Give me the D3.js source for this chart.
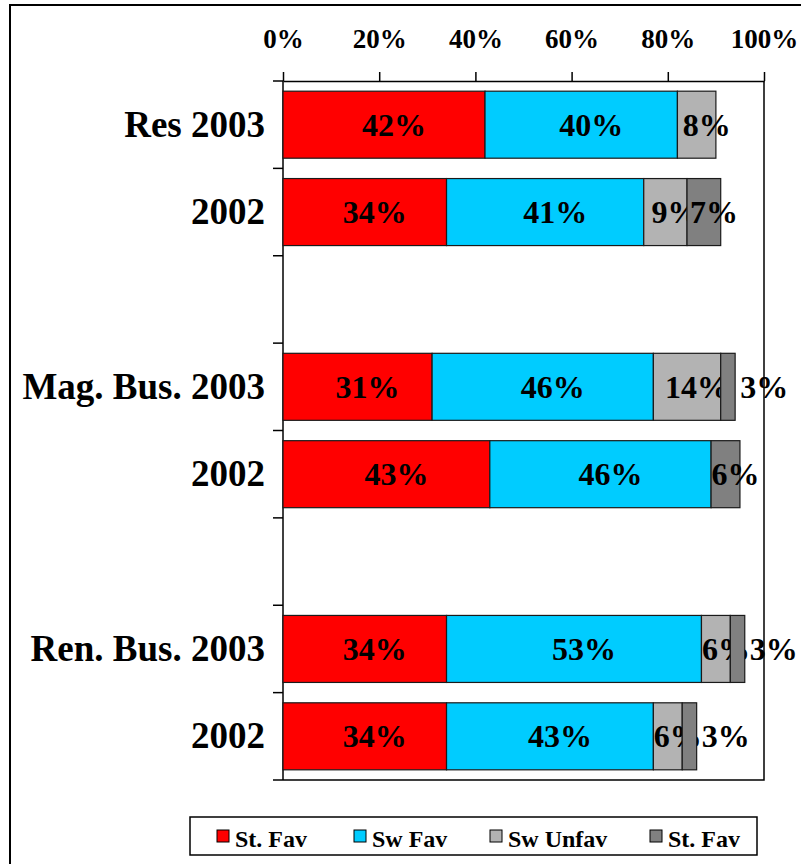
<!DOCTYPE html>
<html>

<head>
  <meta charset="utf-8">
  <script src="https://d3js.org/d3.v7.min.js"></script>

  <style>
    body {
      margin: 0;
      background: white;
    }

    text {
      font-family: "Liberation Serif", "Times New Roman", serif;
      font-weight: bold;
      fill: black;
    }
  </style>
</head>

<body>
  <script type="text/javascript">
    "use strict";

    /*
      chart data, one entry per row (blank rows are spacers between groups)
    */
    var categories = ["Res 2003", "2002", "", "Mag. Bus. 2003", "2002", "", "Ren. Bus. 2003", "2002"];
    var strongFav = [42, 34, null, 31, 43, null, 34, 34];
    var swFav = [40, 41, null, 46, 46, null, 53, 43];
    var swUnfav = [8, 9, null, 14, 0, null, 6, 6];
    var strongUnfav = [0, 7, null, 3, 6, null, 3, 3];
    var seriesNames = ["St. Fav", "Sw Fav", "Sw Unfav", "St. Fav"];
    var tickValues = [0, 20, 40, 60, 80, 100];

    var colors = ["#ff0000", "#00ccff", "#b3b3b3", "#808080"];
    var keys = ["s0", "s1", "s2", "s3"];

    var width = 801,
      height = 864;
    var plot = { left: 283, right: 764, top: 81, bottom: 780 };

    var svg = d3.select("body")
      .append("svg")
      .attr("width", width)
      .attr("height", height);

    // outer chart frame, right and bottom edges fall outside the picture
    svg.append("rect")
      .attr("x", 10)
      .attr("y", 5)
      .attr("width", 820)
      .attr("height", 880)
      .attr("fill", "white")
      .attr("stroke", "black")
      .attr("stroke-width", 2);

    var rows = categories.map(function(c, i) {
      return {
        idx: i,
        label: c,
        blank: strongFav[i] === null,
        s0: strongFav[i] || 0,
        s1: swFav[i] || 0,
        s2: swUnfav[i] || 0,
        s3: strongUnfav[i] || 0
      };
    });

    var x = d3.scaleLinear()
      .domain([0, 100])
      .range([plot.left, plot.right]);

    var y = d3.scaleBand()
      .domain(rows.map(function(d) { return d.idx; }))
      .range([plot.top, plot.bottom])
      .paddingInner(0.233)
      .paddingOuter(0.1165);

    var stacked = d3.stack().keys(keys)(rows.filter(function(d) { return !d.blank; }));

    /*
      plot area border (right + bottom) and category axis
    */
    svg.append("path")
      .attr("d", "M" + plot.left + "," + plot.bottom + "H" + plot.right + "V" + plot.top)
      .attr("fill", "none")
      .attr("stroke", "black")
      .attr("stroke-width", 1.5);

    var step = y.step();
    var edges = d3.range(categories.length + 1).map(function(i) {
      return plot.top + i * step;
    });
    svg.append("g")
      .selectAll("line")
      .data(edges)
      .enter()
      .append("line")
      .attr("x1", plot.left - 10)
      .attr("x2", plot.left)
      .attr("y1", function(d) { return d; })
      .attr("y2", function(d) { return d; })
      .attr("stroke", "black")
      .attr("stroke-width", 1.5);

    svg.append("line")
      .attr("x1", plot.left)
      .attr("x2", plot.left)
      .attr("y1", plot.top)
      .attr("y2", plot.bottom)
      .attr("stroke", "black")
      .attr("stroke-width", 1.5);

    svg.append("g")
      .selectAll("text")
      .data(rows.filter(function(d) { return !d.blank; }))
      .enter()
      .append("text")
      .attr("x", 265)
      .attr("y", function(d) { return y(d.idx) + y.bandwidth() / 2 + 12; })
      .attr("text-anchor", "end")
      .style("font-size", "37px")
      .text(function(d) { return d.label; });

    /*
      value axis on top
    */
    var xAxis = svg.append("g")
      .attr("transform", "translate(0," + plot.top + ")")
      .call(d3.axisTop(x)
        .tickValues(tickValues)
        .tickSize(9)
        .tickSizeOuter(0)
        .tickPadding(24)
        .tickFormat(function(d) { return d + "%"; }));
    xAxis.select(".domain").attr("stroke-width", 1.5);
    xAxis.selectAll(".tick line").attr("stroke-width", 1.5);
    xAxis.selectAll(".tick text")
      .attr("fill", "black")
      .style("font-family", "'Liberation Serif', 'Times New Roman', serif")
      .style("font-weight", "bold")
      .style("font-size", "27px");

    /*
      stacked bars
    */
    var layers = svg.append("g")
      .selectAll("g")
      .data(stacked)
      .enter()
      .append("g")
      .attr("fill", function(d, i) { return colors[i]; });

    layers.selectAll("rect")
      .data(function(d) { return d.filter(function(p) { return p[1] > p[0]; }); })
      .enter()
      .append("rect")
      .attr("x", function(d) { return x(d[0]); })
      .attr("y", function(d) { return y(d.data.idx); })
      .attr("width", function(d) { return x(d[1]) - x(d[0]); })
      .attr("height", y.bandwidth())
      .attr("stroke", "#1a1a1a")
      .attr("stroke-width", 1.2);

    // data labels, tiny segments get their label past the bar end
    layers.selectAll("text")
      .data(function(d) { return d.filter(function(p) { return p[1] > p[0]; }); })
      .enter()
      .append("text")
      .attr("x", function(d) {
        var v = d[1] - d[0];
        if (v < 5) return x(d.data.s0 + d.data.s1 + d.data.s2 + d.data.s3) + 29;
        return x((d[0] + d[1]) / 2) + 10;
      })
      .attr("y", function(d) { return y(d.data.idx) + y.bandwidth() / 2 + 11; })
      .attr("text-anchor", "middle")
      .style("font-size", "32px")
      .text(function(d) { return (d[1] - d[0]) + "%"; });

    /*
      legend
    */
    var legend = svg.append("g");
    legend.append("rect")
      .attr("x", 190)
      .attr("y", 817)
      .attr("width", 567)
      .attr("height", 38)
      .attr("fill", "white")
      .attr("stroke", "black")
      .attr("stroke-width", 1.5);

    var legendX = [217, 354, 490, 650];
    var items = legend.selectAll(".item")
      .data(seriesNames)
      .enter()
      .append("g")
      .attr("class", "item")
      .attr("transform", function(d, i) { return "translate(" + legendX[i] + ",0)"; });

    items.append("rect")
      .attr("x", 0)
      .attr("y", 830)
      .attr("width", 12)
      .attr("height", 12)
      .attr("fill", function(d, i) { return colors[i]; })
      .attr("stroke", "black")
      .attr("stroke-width", 1);

    items.append("text")
      .attr("x", 18)
      .attr("y", 847)
      .style("font-size", "24px")
      .text(function(d) { return d; });
  </script>
</body>

</html>
